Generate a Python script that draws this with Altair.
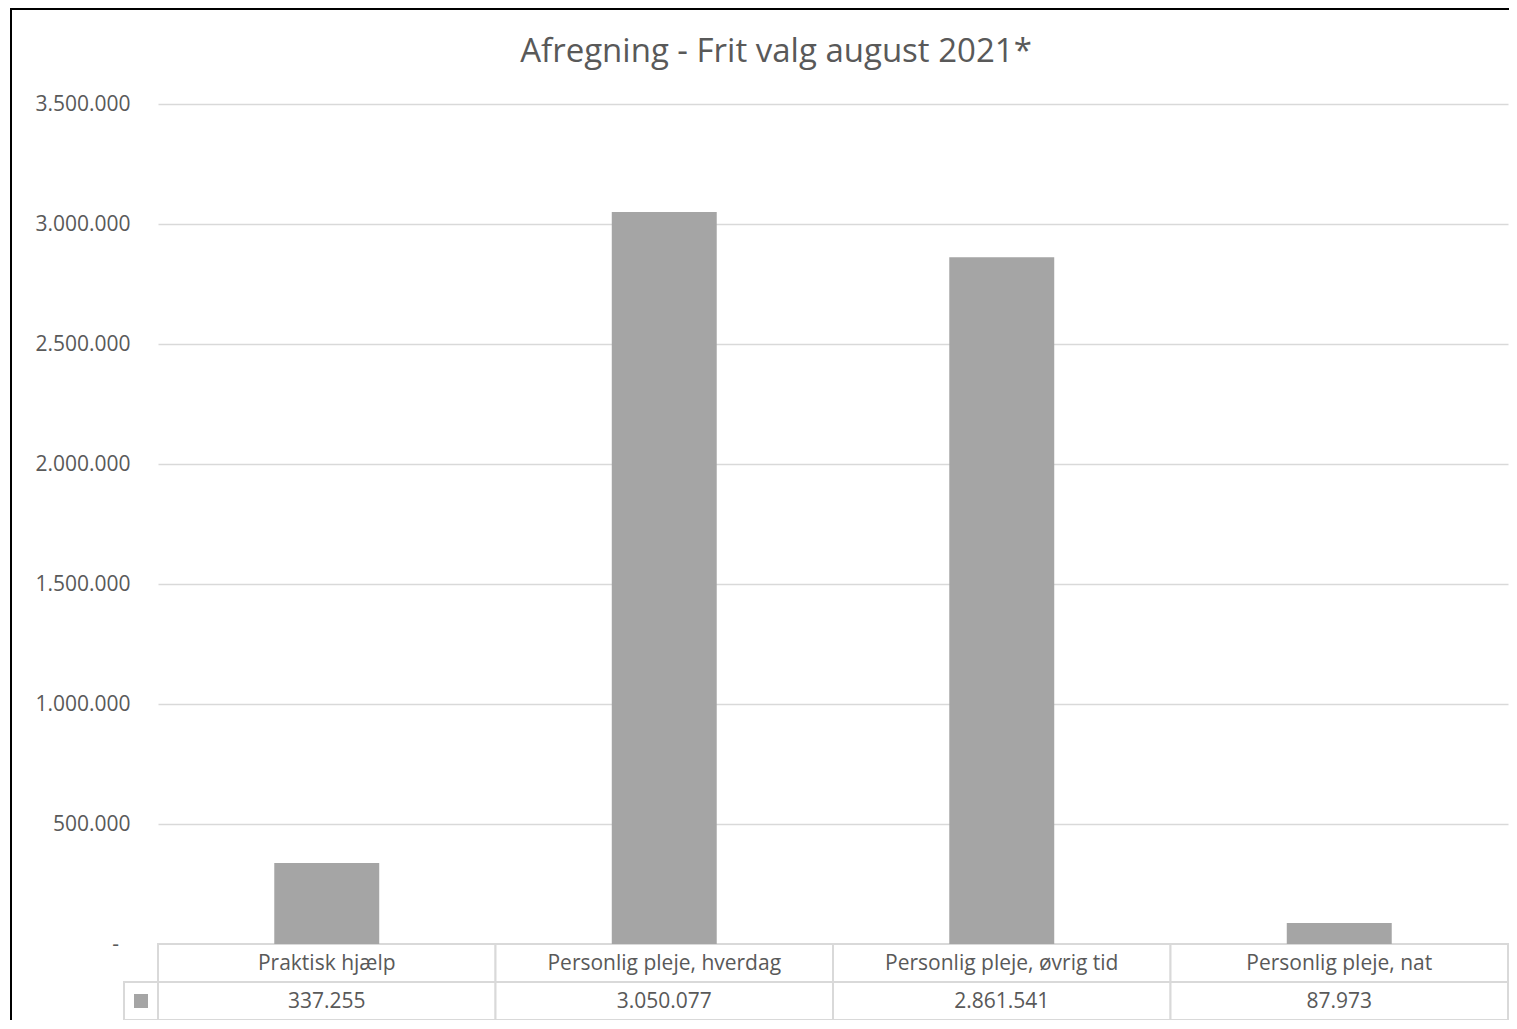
import altair as alt
import pandas as pd

# ---- data ----
categories = ["Praktisk hjælp", "Personlig pleje, hverdag", "Personlig pleje, øvrig tid", "Personlig pleje, nat"]
values = [337255, 3050077, 2861541, 87973]
y_ticks = [0, 500000, 1000000, 1500000, 2000000, 2500000, 3000000, 3500000]
title_text = "Afregning - Frit valg august 2021*"


def fmt(v):
    return f"{v:,}".replace(",", ".")


df = pd.DataFrame({"cat": categories, "value": values, "label": [fmt(v) for v in values]})
one = pd.DataFrame({"t": [title_text]})
zero = pd.DataFrame({"v": [0], "t": ["-"]})

W, H = 1350, 840
ROW = 38
FONT = "Open Sans"
TXT = "#595959"
GRID = "#d9d9d9"
BAR = "#a5a5a5"

xscale = alt.Scale(domain=categories, paddingInner=0, paddingOuter=0)
x = alt.X("cat:N", scale=xscale, axis=None, sort=categories)
yscale = alt.Scale(domain=[0, 3500000], nice=False)

label_expr = (
    "datum.value == 0 ? '' : "
    "replace(replace(format(datum.value, ',d'), ',', '.'), ',', '.')"
)

base = alt.Chart(df)

bars = base.mark_bar(color=BAR, width=alt.RelativeBandSize(0.311)).encode(
    x=x,
    y=alt.Y(
        "value:Q",
        scale=yscale,
        axis=alt.Axis(
            values=y_ticks,
            title=None,
            grid=True,
            gridColor=GRID,
            gridWidth=1.5,
            domain=False,
            ticks=False,
            labelFont=FONT,
            labelFontSize=21,
            labelColor=TXT,
            labelPadding=28,
            labelExpr=label_expr,
        ),
    ),
)

# zero tick label shown as a dash (accounting format)
zero_label = alt.Chart(zero).mark_text(
    font=FONT, fontSize=21, color=TXT, align="right", baseline="middle", dy=1
).encode(x=alt.value(-39), y=alt.Y("v:Q", scale=yscale), text="t:N")

# data table under the plot
row1 = base.mark_rect(fill="white", stroke=GRID, strokeWidth=2).encode(
    x=x, y=alt.value(H), y2=alt.value(H + ROW)
)
row2 = base.mark_rect(fill="white", stroke=GRID, strokeWidth=2).encode(
    x=x, y=alt.value(H + ROW), y2=alt.value(H + 2 * ROW)
)
legend_cell = alt.Chart(one).mark_rect(fill="white", stroke=GRID, strokeWidth=2).encode(
    x=alt.value(-34), x2=alt.value(0), y=alt.value(H + ROW), y2=alt.value(H + 2 * ROW)
)
legend_sq = alt.Chart(one).mark_square(size=196, color=BAR, opacity=1).encode(
    x=alt.value(-17), y=alt.value(H + ROW + ROW / 2)
)
cat_text = base.mark_text(font=FONT, fontSize=21, color=TXT, baseline="middle").encode(
    x=x, y=alt.value(H + ROW / 2 + 1), text="cat:N"
)
val_text = base.mark_text(font=FONT, fontSize=21, color=TXT, baseline="middle").encode(
    x=x, y=alt.value(H + ROW + ROW / 2 + 1), text="label:N"
)

title = alt.Chart(one).mark_text(font=FONT, fontSize=33, color=TXT, baseline="middle").encode(
    x=alt.value(618), y=alt.value(-52), text="t:N"
)

frame_left = alt.Chart(one).mark_rule(color="black", strokeWidth=2).encode(
    x=alt.value(-147), y=alt.value(-96), y2=alt.value(930)
)
frame_top = alt.Chart(one).mark_rule(color="black", strokeWidth=2).encode(
    y=alt.value(-95), x=alt.value(-148), x2=alt.value(1370)
)

chart = (
    alt.layer(row1, row2, legend_cell, legend_sq, bars, zero_label, cat_text, val_text, title,
              frame_left, frame_top)
    .properties(
        width=W,
        height=H,
        padding={"left": 150, "top": 96, "right": 1, "bottom": 76},
        autosize="none",
        background="white",
    )
    .configure_view(stroke=None)
)

chart.save("out.html", embed_options={"renderer": "svg", "actions": False})
